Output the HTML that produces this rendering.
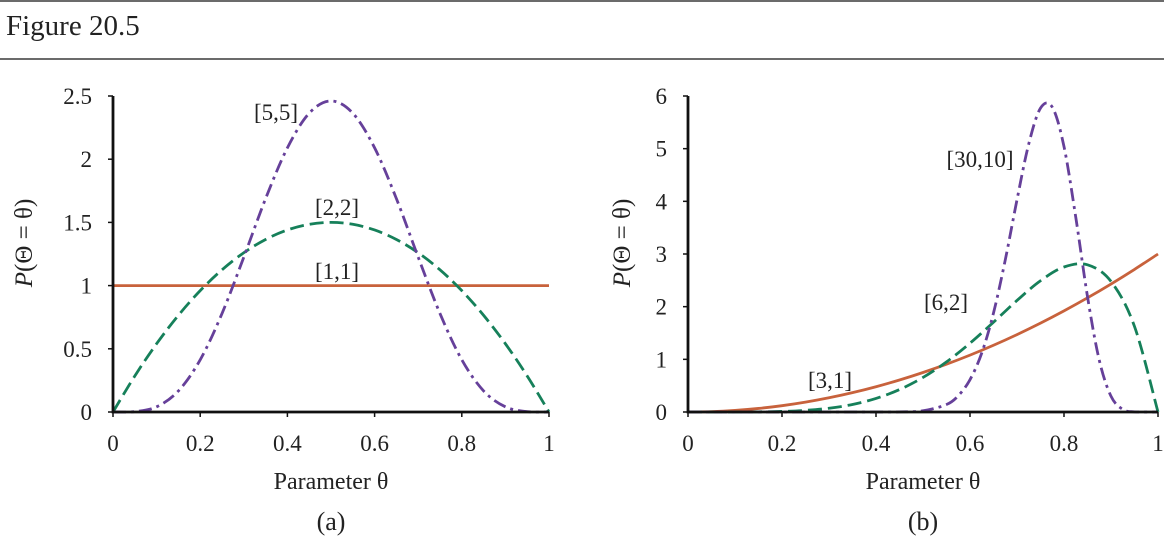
<!DOCTYPE html>
<html><head><meta charset="utf-8">
<style>
body{margin:0;background:#fff;width:1164px;height:540px;overflow:hidden;font-family:"Liberation Serif",serif;}
svg text{font-family:"Liberation Serif",serif;fill:#222;}
</style></head>
<body>
<svg id="fig" width="1164" height="540" viewBox="0 0 1164 540">
  <line x1="0" y1="1" x2="1164" y2="1" stroke="#6b6b6b" stroke-width="2"/>
  <text x="6" y="35" font-size="29">Figure 20.5</text>
  <line x1="0" y1="59" x2="1164" y2="59" stroke="#6b6b6b" stroke-width="2"/>
  <g id="chartA"></g>
  <g id="chartB"></g>
</svg>
<script>
const xs = [0,0.05,0.1,0.15,0.2,0.25,0.3,0.35,0.4,0.45,0.5,0.55,0.6,0.65,0.7,0.75,0.8,0.85,0.9,0.95,1];
const a11 = [1,1,1,1,1,1,1,1,1,1,1,1,1,1,1,1,1,1,1,1,1];
const a22 = [0,0.285,0.54,0.765,0.96,1.125,1.26,1.365,1.44,1.485,1.5,1.485,1.44,1.365,1.26,1.125,0.96,0.765,0.54,0.285,0];
const a55 = [0,0.003,0.041,0.167,0.413,0.779,1.225,1.688,2.09,2.364,2.461,2.364,2.09,1.688,1.225,0.779,0.413,0.167,0.041,0.003,0];
const b31 = [0,0.0075,0.03,0.0675,0.12,0.1875,0.27,0.3675,0.48,0.6075,0.75,0.9075,1.08,1.2675,1.47,1.6875,1.92,2.1675,2.43,2.7075,3];
const b62 = [0,0,0.0004,0.0027,0.011,0.031,0.071,0.143,0.258,0.426,0.656,0.951,1.306,1.705,2.118,2.492,2.753,2.795,2.48,1.625,0];
const xs30 = [0,0.4,0.45,0.5,0.55,0.575,0.6,0.625,0.65,0.675,0.7,0.725,0.75,0.775,0.8,0.825,0.85,0.875,0.9,0.925,0.95,1];
const b3010 = [0,0,0.003,0.023,0.142,0.309,0.614,1.12,1.88,2.886,4.03,5.09,5.77,5.79,5.04,3.7,2.19,0.986,0.3,0.05,0.003,0];
const xTicks = ["0","0.2","0.4","0.6","0.8","1"];
const yTicksA = ["0","0.5","1","1.5","2","2.5"];
const yTicksB = ["0","1","2","3","4","5","6"];

const NS="http://www.w3.org/2000/svg";
function mk(parent,tag,attrs){const e=document.createElementNS(NS,tag);for(const k in attrs)e.setAttribute(k,attrs[k]);parent.appendChild(e);return e;}
function smooth(pts){let d="M"+pts[0][0]+","+pts[0][1];for(let i=0;i<pts.length-1;i++){const p0=pts[Math.max(0,i-1)],p1=pts[i],p2=pts[i+1],p3=pts[Math.min(pts.length-1,i+2)];const c1x=p1[0]+(p2[0]-p0[0])/6,c1y=p1[1]+(p2[1]-p0[1])/6,c2x=p2[0]-(p3[0]-p1[0])/6,c2y=p2[1]-(p3[1]-p1[1])/6;d+=" C"+c1x+","+c1y+" "+c2x+","+c2y+" "+p2[0]+","+p2[1];}return d;}

function chart(g,x0,x1,y0,y1,ymax,yTicks,series,labels,sub,ytx){
  const sx=v=>x0+v*(x1-x0), sy=v=>y0-(v/ymax)*(y0-y1);
  series.forEach(s=>{
    const pts=s.x.map((v,i)=>[sx(v),sy(s.y[i])]);
    const p=mk(g,"path",{d:smooth(pts),fill:"none",stroke:s.c,"stroke-width":2.8,"stroke-dasharray":s.dash||"none"});
    
    
  });
  const ax=mk(g,"path",{d:"M"+x0+","+y1+" L"+x0+","+y0+" L"+x1+","+y0,fill:"none",stroke:"#111","stroke-width":2.8});
  
  
  xTicks.forEach((t,i)=>{const x=sx(i/(xTicks.length-1));
    mk(g,"line",{x1:x,y1:y0,x2:x,y2:y0+5,stroke:"#111","stroke-width":1.5});
    const tx=mk(g,"text",{x:x,y:y0+39,"font-size":23,"text-anchor":"middle"});tx.textContent=t;
    
    
  });
  yTicks.forEach((t,i)=>{const y=sy(i*ymax/(yTicks.length-1));
    mk(g,"line",{x1:x0-5,y1:y,x2:x0,y2:y,stroke:"#111","stroke-width":1.5});
    const tx=mk(g,"text",{x:x0-21,y:y+8,"font-size":23,"text-anchor":"end"});tx.textContent=t;
    
    
  });
  labels.forEach(l=>{const tx=mk(g,"text",{x:l[1],y:l[2],"font-size":23,"text-anchor":"middle"});tx.textContent=l[0];
    
    
  });
  const xt=mk(g,"text",{x:(x0+x1)/2,y:489,"font-size":24,"text-anchor":"middle"});xt.textContent="Parameter θ";
  
  
  const yt=mk(g,"text",{x:0,y:0,"font-size":25,"text-anchor":"middle",transform:"translate("+ytx+",243) rotate(-90)"});
  yt.innerHTML='<tspan font-style="italic">P</tspan>(Θ = θ)';
  
  
  const st=mk(g,"text",{x:(x0+x1)/2,y:530,"font-size":26,"text-anchor":"middle"});st.textContent=sub;
  
  
}
const orange="#c8623c", green="#16805a", purple="#66409a";
chart(document.getElementById("chartA"),113,549,412,96,2.5,yTicksA,[
  {x:xs,y:a11,c:orange,name:"line-beta-1-1"},
  {x:xs,y:a22,c:green,dash:"14 6",name:"line-beta-2-2"},
  {x:xs,y:a55,c:purple,dash:"13 5 3 5",name:"line-beta-5-5"}
],[["[5,5]",276,120],["[2,2]",337,215],["[1,1]",337,279]],"(a)",32);
chart(document.getElementById("chartB"),688,1158,412,96,6,yTicksB,[
  {x:xs,y:b31,c:orange,name:"line-beta-3-1"},
  {x:xs,y:b62,c:green,dash:"14 6",name:"line-beta-6-2"},
  {x:xs30,y:b3010,c:purple,dash:"13 5 3 5",name:"line-beta-30-10"}
],[["[3,1]",830,388],["[6,2]",946,310],["[30,10]",980,167]],"(b)",630);
</script>
</body></html>
